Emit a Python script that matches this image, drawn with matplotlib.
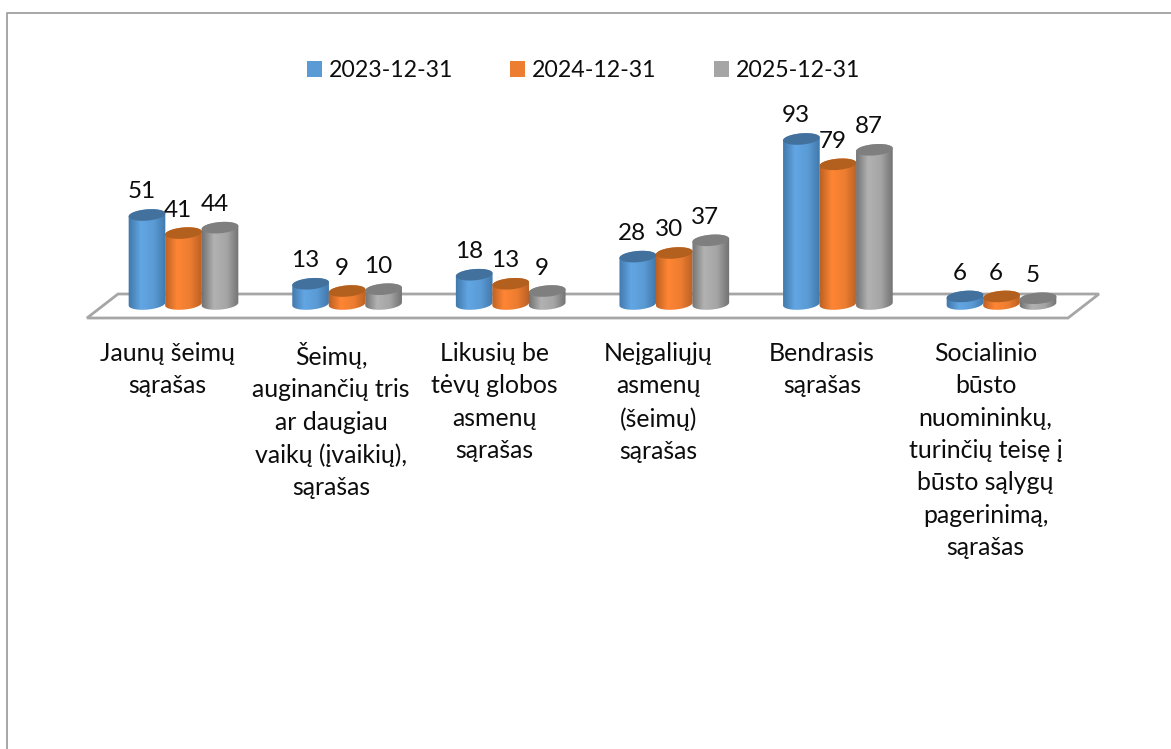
import numpy as np
import matplotlib
matplotlib.use("Agg")
import matplotlib.pyplot as plt
from matplotlib.patches import Patch, Polygon, PathPatch
from matplotlib.path import Path
from matplotlib.colors import LinearSegmentedColormap

categories = ["Jaunų šeimų\nsąrašas",
              "Šeimų,\nauginančių tris\nar daugiau\nvaikų (įvaikių),\nsąrašas",
              "Likusių be\ntėvų globos\nasmenų\nsąrašas",
              "Neįgaliųjų\nasmenų\n(šeimų)\nsąrašas",
              "Bendrasis\nsąrašas",
              "Socialinio\nbūsto\nnuomininkų,\nturinčių teisę į\nbūsto sąlygų\npagerinimą,\nsąrašas"]
series_names = ["2023-12-31", "2024-12-31", "2025-12-31"]
v2023 = [51, 13, 18, 28, 93, 6]
v2024 = [41, 9, 13, 30, 79, 6]
v2025 = [44, 10, 9, 37, 87, 5]
series = [v2023, v2024, v2025]
colors = ["#5B9BD5", "#ED7D31", "#A5A5A5"]
side_dark = ["#3F76A8", "#B85F22", "#6F6F6F"]
side_light = ["#62A6E4", "#FF8534", "#B2B2B2"]
top_col = ["#41719C", "#B3601F", "#7F7F7F"]

plt.rcParams["font.family"] = ["Lato", "DejaVu Sans"]

W, H = 1171, 749
PX_X = 163.6      # pixels per category
PX_Y = 1.81       # pixels per value unit
X0, Y0 = 183.5, 307.3
BASE_LIFT = 3.3   # base ellipse sits slightly above the value origin
fig = plt.figure(figsize=(W / 100, H / 100), dpi=100)
ax = fig.add_axes([0, 0, 1, 1])
ax.set_xlim(-X0 / PX_X, (W - X0) / PX_X)
ax.set_ylim(-(H - Y0) / PX_Y, Y0 / PX_Y)
ax.axis("off")

def dx(px):
    return px / PX_X
def dy(px):
    return px / PX_Y

# frame (top and left only are visible)
ax.plot([dx(7.5 - X0), dx(7.5 - X0), dx(W - X0)],
        [dy(Y0 - H), dy(Y0 - 13), dy(Y0 - 13)], color="#A0A0A0", lw=1.3)

# floor
floor = [(87 - X0, Y0 - 318), (1068 - X0, Y0 - 318), (1099 - X0, Y0 - 294), (118 - X0, Y0 - 294)]
ax.add_patch(Polygon([(dx(a), dy(b)) for a, b in floor], closed=True, fill=False,
                     ec="#A6A6A6", lw=2.0, zorder=1))

BW = 36.5
RX, RY, TILT = 18.4, 5.6, np.deg2rad(5)
t = np.linspace(0, 2 * np.pi, 73)
ex = RX * np.cos(t) * np.cos(TILT) - RY * np.sin(t) * np.sin(TILT)
ey = RX * np.cos(t) * np.sin(TILT) + RY * np.sin(t) * np.cos(TILT)

for s, vals in enumerate(series):
    cmap = LinearSegmentedColormap.from_list(
        "c", [side_dark[s], side_light[s], colors[s], side_dark[s]], N=256)
    z = 3 + s
    for i, v in enumerate(vals):
        cx = BW * (s - 1) + i * PX_X
        h = v * PX_Y
        # cylinder outline: tilted ellipses joined along their extreme points
        il = np.argmin(ex)
        ir = np.argmax(ex)
        idx_low = np.arange(il, il + 37) % 72
        low = np.c_[ex[idx_low], ey[idx_low]]
        low = low[np.argsort(low[:, 0])]
        up = np.c_[ex[:72], ey[:72]]
        up = up[up[:, 1] >= np.interp(up[:, 0], [ex[il], ex[ir]], [ey[il], ey[ir]])]
        up = up[np.argsort(up[:, 0])]
        lower = low if low[:, 1].mean() < up[:, 1].mean() else up
        upper = up if lower is low else low
        pts = np.r_[lower + [0, BASE_LIFT], (upper + [0, h])[::-1]]
        path = Path(np.c_[(cx + pts[:, 0]) / PX_X, pts[:, 1] / PX_Y], closed=False)
        patch = PathPatch(path, fc="none", ec="none", zorder=z)
        ax.add_patch(patch)
        im = ax.imshow(np.linspace(0, 1, 64)[None, :], cmap=cmap, aspect="auto",
                       extent=[dx(cx - RX - 1), dx(cx + RX + 1), dy(-12), dy(h + 12)],
                       zorder=z, interpolation="bilinear")
        im.set_clip_path(patch)
        ax.fill((cx + ex) / PX_X, (h + ey) / PX_Y, color=top_col[s], lw=0, zorder=z + 0.1)
        ax.text(dx(cx - 5.5), v + dy(23), str(v), ha="center", va="center",
                fontsize=17.5, color="#0D0D0D", zorder=10)

ax.set_xlim(-X0 / PX_X, (W - X0) / PX_X)
ax.set_ylim(-(H - Y0) / PX_Y, Y0 / PX_Y)

for i, c in enumerate(categories):
    ax.text(i + dx(-16), dy(Y0 - 342), c, ha="center", va="top", fontsize=17.9,
            color="#0D0D0D", linespacing=1.49, zorder=10)

handles = [Patch(fc=c, ec="none", label=n) for c, n in zip(colors, series_names)]
ax.legend(handles=handles, ncol=3, loc="center", bbox_to_anchor=(583.5 / W, 1 - 70.5 / H),
          frameon=False, fontsize=16.7, handlelength=0.65, handleheight=0.65,
          handletextpad=0.3, columnspacing=2.46, labelcolor="#0D0D0D", borderpad=0)

fig.savefig("out.png", dpi=100, facecolor="white")
